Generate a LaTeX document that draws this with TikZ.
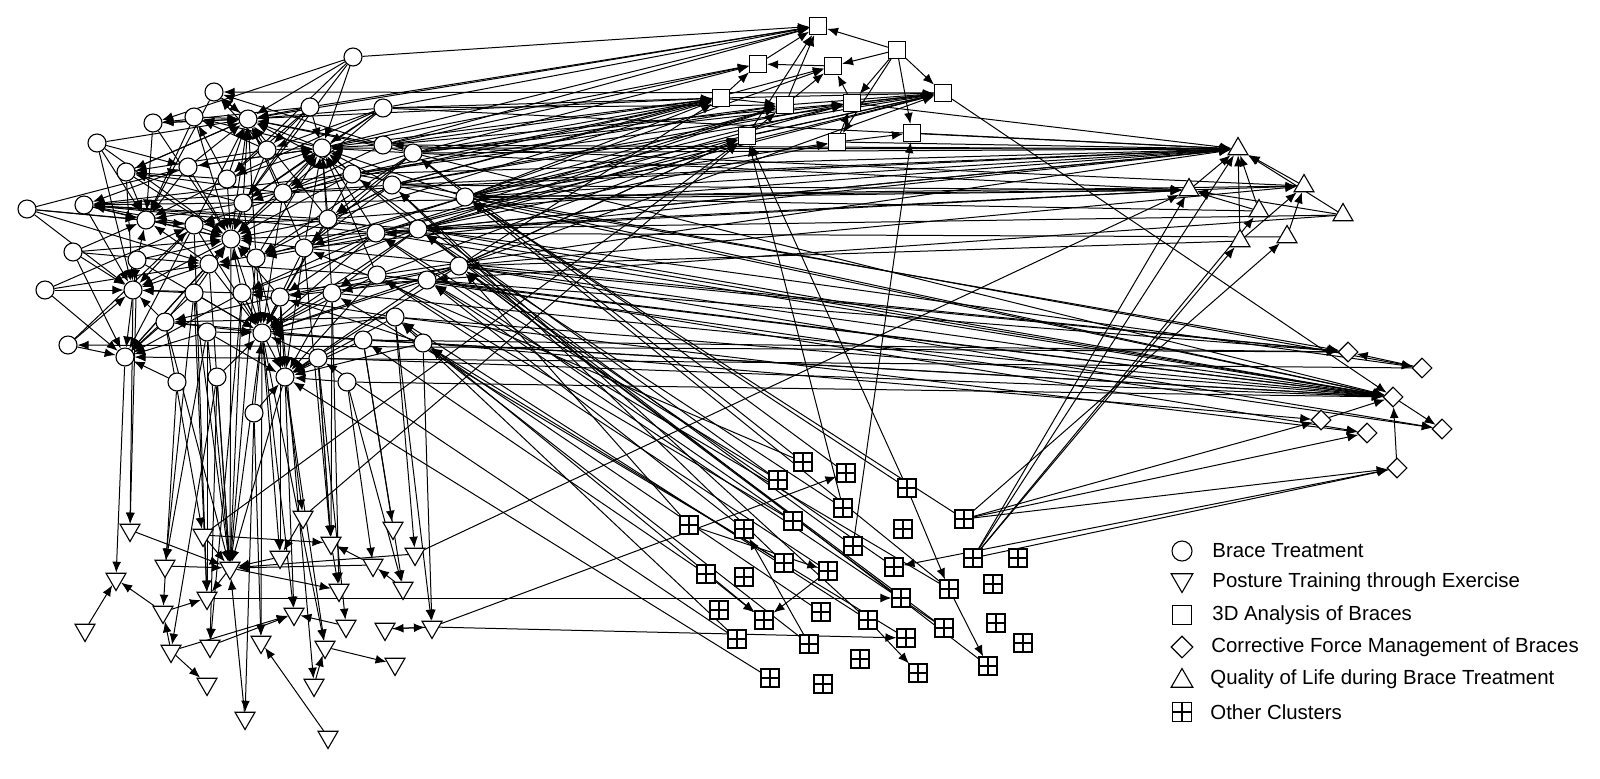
\documentclass[tikz,border=0pt]{standalone}
\usepackage{fontspec}
\setmainfont{Liberation Sans}
\usetikzlibrary{shapes.geometric,arrows.meta}
\pgfdeclarelayer{bg}
\pgfsetlayers{bg,main}
\newcommand\myhub[2]{\foreach \xx in {#2}{\draw[edge] (\xx) -- (#1);}}
\newcommand\myfan[2]{\foreach \xx in {#2}{\draw[edge] (#1) -- (\xx);}}
\begin{document}
\begin{tikzpicture}[x=0.5pt,y=-0.5pt,
  nd/.style={draw=black,fill=white,line width=0.55pt,inner sep=0pt},
  bt/.style={nd,circle,minimum size=9pt},
  sq/.style={nd,rectangle,minimum size=8.5pt},
  qt/.style={nd,regular polygon,regular polygon sides=3,minimum size=11.5pt},
  pt/.style={nd,regular polygon,regular polygon sides=3,shape border rotate=180,minimum size=11.5pt},
  dm/.style={nd,diamond,minimum width=10pt,minimum height=10pt},
  oc/.style={nd,rectangle,minimum size=9pt,path picture={\draw[line width=0.55pt] (path picture bounding box.north)--(path picture bounding box.south) (path picture bounding box.west)--(path picture bounding box.east);}},
  edge/.style={line width=0.5pt,-{Latex[length=5.5pt,width=4.4pt]}},
  lab/.style={anchor=west,inner sep=0pt,font=\fontsize{10.2}{12}\selectfont}
]
\useasboundingbox (0,0) rectangle (1600,778);
% Brace Treatment (circles)
\foreach \n/\x/\y in {c1/353/57,c2/214/92,c3/310/107,c4/383/108,c5/194/117,c6/248/119,c7/153/123,c8/97/143,c9/267/150,c10/322/148,c11/383/145,c12/413/153,c13/126/172,c14/188/167,c15/227/179,c16/352/174,c17/392/185,c18/283/193,c19/465/197,c20/27/209,c21/84/205,c22/243/203,c23/146/220,c24/194/225,c25/328/219,c26/376/233,c27/418/229,c28/231/239,c29/73/252,c30/304/248,c31/209/264,c32/256/258,c33/137/260,c34/459/266,c35/377/275,c36/427/280,c37/45/290,c38/133/290,c39/194/293,c40/242/293,c41/280/297,c42/332/293,c43/395/317,c44/165/322,c45/207/332,c46/262/333,c47/363/340,c48/423/343,c49/68/345,c50/125/357,c51/318/358,c52/177/382,c53/285/377,c54/347/382,c55/217/377,c56/254/413}
  \node[bt] (\n) at (\x,\y) {};
% 3D analysis (squares)
\foreach \n/\x/\y in {s1/818/26,s2/897/50,s3/758/64,s4/833/66,s5/943/93,s6/721/98,s7/785/105,s8/852/103,s9/747/136,s10/837/142,s11/912/133}
  \node[sq] (\n) at (\x,\y) {};
% Quality of life (up triangles)
\foreach \n/\x/\y in {t1/1238/149,t2/1189/190,t3/1304/186,t4/1259/211,t5/1343/215,t6/1240/241,t7/1287/237}
  \node[qt] (\n) at (\x,\y) {};
% Corrective force (diamonds)
\foreach \n/\x/\y in {d1/1348/352,d2/1422/368,d3/1393/397,d4/1321/420,d5/1367/433,d6/1442/429,d7/1397/468}
  \node[dm] (\n) at (\x,\y) {};
% Other clusters
\foreach \n/\x/\y in {o1/803/462,o2/846/473,o3/778/480,o4/907/488,o5/843/508,o6/689/525,o7/744/529,o8/793/521,o9/964/519,o10/903/529,o11/853/546,o12/973/558,o13/1018/558,o14/784/563,o15/828/571,o16/894/567,o17/706/574,o18/744/577,o19/993/584,o20/949/589,o21/901/598,o22/719/610,o23/764/620,o24/821/612,o25/868/620,o26/996/623,o27/944/628,o28/737/639,o29/809/644,o30/906/638,o31/1023/643,o32/860/659,o33/988/666,o34/918/673,o35/770/678,o36/823/684}
  \node[oc] (\n) at (\x,\y) {};
% Posture training (down triangles)
\foreach \n/\x/\y in {p1/130/530,p2/203/535,p3/303/517,p4/393/528,p5/331/543,p6/165/566,p7/280/557,p8/230/568,p9/415/554,p10/373/565,p11/116/579,p12/403/588,p13/339/590,p14/207/598,p15/163/612,p16/294/614,p17/85/630,p18/346/626,p19/385/629,p20/432/627,p21/261/642,p22/210/646,p23/171/651,p24/325/647,p25/395/664,p26/207/684,p27/314/685,p28/245/718,p29/328/737}
  \node[pt] (\n) at (\x,\y) {};

\begin{pgfonlayer}{bg}
% circle cluster
\myhub{c6}{c1,c2,c3,c4,c5,c7,c9,c11,c14,c15,c18,c22,c24,c32,c12,c16,c28,s1,c13,c10,c25,c30,c8}
\myhub{c10}{c1,c3,c4,c9,c11,c12,c16,c17,c18,c25,c30,c22,c26,c15,c35,c27,c32,c28,c42,c19,c14}
\myhub{c28}{c13,c14,c15,c22,c24,c31,c32,c33,c23,c39,c40,c18,c25,c30,c8,c7,c21,c29,c16,c9,c41,c26,c10,c44,c5}
\myhub{c46}{c28,c31,c32,c39,c40,c41,c42,c45,c44,c35,c47,c43,c26,c30,c51,c55,c56,c36,c48,c34,c25,c22,c24,c18,c27,c33,c16}
\myhub{c23}{c8,c7,c13,c21,c20,c29,c14,c24,c33,c5,c2,c15,c22,c31}
\myhub{c38}{c29,c37,c33,c21,c20,c44,c49,c31,c24,c8,c40,c13,c28,c39}
\myhub{c50}{c37,c49,c44,c45,c33,c29,c39,c52,c31,c28,c40,c24}
\myhub{c53}{c41,c51,c54,c47,c56,c45,c40,c43,c48,c32,c42,c35,c30,c36}
\myhub{c21}{c16,c26,c17,c25,c27,t2,c24,c14}
\myhub{c13}{c9,c15,c22,c18,c6}
\myhub{c2}{c6,c11,s5,c9}
\myhub{c5}{c9,c10,c15}
\myhub{c24}{c20,c37,c49,c16,c25}
\myhub{c31}{c20,c37,c29,c26,c35}
\myhub{c14}{c8,c20,c10}
\myhub{c7}{c1,c3,s6}
\myhub{c15}{c3,c4,c1}
\myhub{c22}{c3,c1,c4,c12}
\myhub{c9}{c3,c4}
\myhub{c32}{c12,c27,c19,c17}
\myhub{c30}{c17,c12,c19}
\myhub{c40}{c26,c27,c36,c43}
\myhub{c41}{c34,c36,c48,c26}
\myhub{c44}{c43,c47,c35}
\myhub{c18}{c4,c11}
\myhub{c25}{c12,c17}
\myhub{c42}{c27,c34}
% squares
\myhub{s1}{c3,c4,c11,s2,s3,s7,s9,c1,c10}
\myhub{s5}{c19,c27,c26,c34,s6,s7,s8,s9,s2,c17,c16,c12}
\myhub{s6}{c12,c4,c11,c19,c17,c16,c53,c10,c25,c18}
\myhub{s7}{c12,c19,c27,s6,s9,c4,c16,c26}
\myhub{s8}{c17,c26,s10,s2,c11,c19}
\myhub{s3}{c11,c12,s6,s4,c10}
\myhub{s4}{s2,s8,s7,c19,c17}
\myhub{s11}{s2,s10,o11}
\myhub{s10}{s2,c19,c27}
\myhub{s9}{c27,c36,c34,p2,p3,o4,o5,c35}
\myfan{s5}{d3}
% triangles
\myhub{t1}{c10,c12,c16,c17,c11,c19,c4,c26,c27,t2,t3,t6,t4,t5,s11,s8,s10,o12,c25,c18,c30,c35}
\myhub{t2}{c19,c27,c17,c12,t5,o12,p9,t4,c26}
\myhub{t3}{t2,t7,c19,c34,t6}
\myhub{t6}{o12}
\myhub{t4}{o12}
\myhub{t7}{o9}
\myfan{t5}{c27,c36}
\myfan{t4}{c19}
\myfan{t7}{c26}
\myfan{t6}{c34}
\myfan{t3}{c11}
% diamonds
\myhub{d3}{c19,c27,c34,c36,c17,c26,c43,c35,c48,c12,c47,c25,d7,d4,c42,c54,c51}
\myhub{d1}{c19,c34,c36,d2,c47,c30}
\myfan{d2}{c50}
\myfan{d1}{c49}
\myhub{d5}{o9,c43,c36}
\myhub{d4}{o9,c48}
\myhub{d7}{o9,o12}
\myfan{d7}{o16}
\myhub{d6}{c35,d3,c34}
\myhub{d2}{c16,c27}
% other clusters
\foreach \a/\b in {o5/c27,o11/c27,o16/c34,o21/c34,o20/c36,o27/c36,o4/c19,o1/c12,o15/c35,o28/c43,o24/c48,o17/c47,o8/c26,o14/c17,o3/c16,o29/c48,o35/c53,o28/c51,o14/c42,o33/c27,o27/c34,o25/c17,o6/c34,o2/c12,o9/c19,o7/c36,o1/c30,o3/c26,o8/c35,o20/c19,o25/c43,o30/c48}
  \draw[edge] (\a) -- (\b);
\myhub{o23}{c43,o15,o17}
\myhub{o7}{o29}
\myhub{o2}{p20}
\myfan{o25}{o34}
\myfan{o20}{o33}
\myfan{o4}{o20}
\myfan{o6}{o15}
% posture training
\myhub{p8}{c39,c40,c45,c46,c31,c28,c55,c44,c53,p1,p9,p10,p7,p2,p28,p6,c32}
\myhub{p11}{c50,p17,p15}
\myfan{p15}{p14}
\myfan{p23}{p26,p15}
\myfan{p24}{p25}
\myfan{p27}{p24}
\myfan{p29}{p21}
\draw[edge] (p19) -- (p20);
\draw[edge] (p20) -- (p19);
\myhub{p5}{p2,p10,c42,c51,c30}
\draw[edge] (p5) -- (p13);
\myhub{p13}{p8,c42}
\myhub{p16}{p22,p23,p18,c53,c46}
\myhub{p14}{c39,p8,c24,c45}
\myhub{p7}{c41,c46,p3}
\foreach \a/\b in {c44/p2,c45/p6,c40/p22,c55/p23,c46/p21,c54/p10,c47/p4,c53/p3,c56/p28,c38/p1,c51/p18,c46/p24,c41/p27,c43/p9,c54/p12,c48/p20,c43/p20,c52/p15,p12/p10,c33/p1,c39/p6,c55/p22,c56/p21,c53/p24,c51/p5,c47/p12}
  \draw[edge] (\a) -- (\b);
\myfan{p14}{o21}
\myfan{p20}{o30}
\end{pgfonlayer}

% legend
\node[bt,minimum size=10pt] (l1) at (1182,551) {};
\node[pt,minimum size=12.5pt] (l2) at (1182,580) {};
\node[sq,minimum size=9.5pt] (l3) at (1182,615) {};
\node[dm,minimum width=11pt,minimum height=11pt] (l4) at (1182,647) {};
\node[qt,minimum size=12.5pt] (l5) at (1182,681) {};
\node[oc,minimum size=9.5pt] (l6) at (1182,712) {};
\node[lab] (m1) at (1212,551) {Brace Treatment};
\node[lab] (m2) at (1212,582) {Posture Training through Exercise};
\node[lab] (m3) at (1212,615) {3D Analysis of Braces};
\node[lab] (m4) at (1211,647) {Corrective Force Management of Braces};
\node[lab] (m5) at (1210,679) {Quality of Life during Brace Treatment};
\node[lab] (m6) at (1210,712) {Other Clusters};
\end{tikzpicture}
\end{document}
